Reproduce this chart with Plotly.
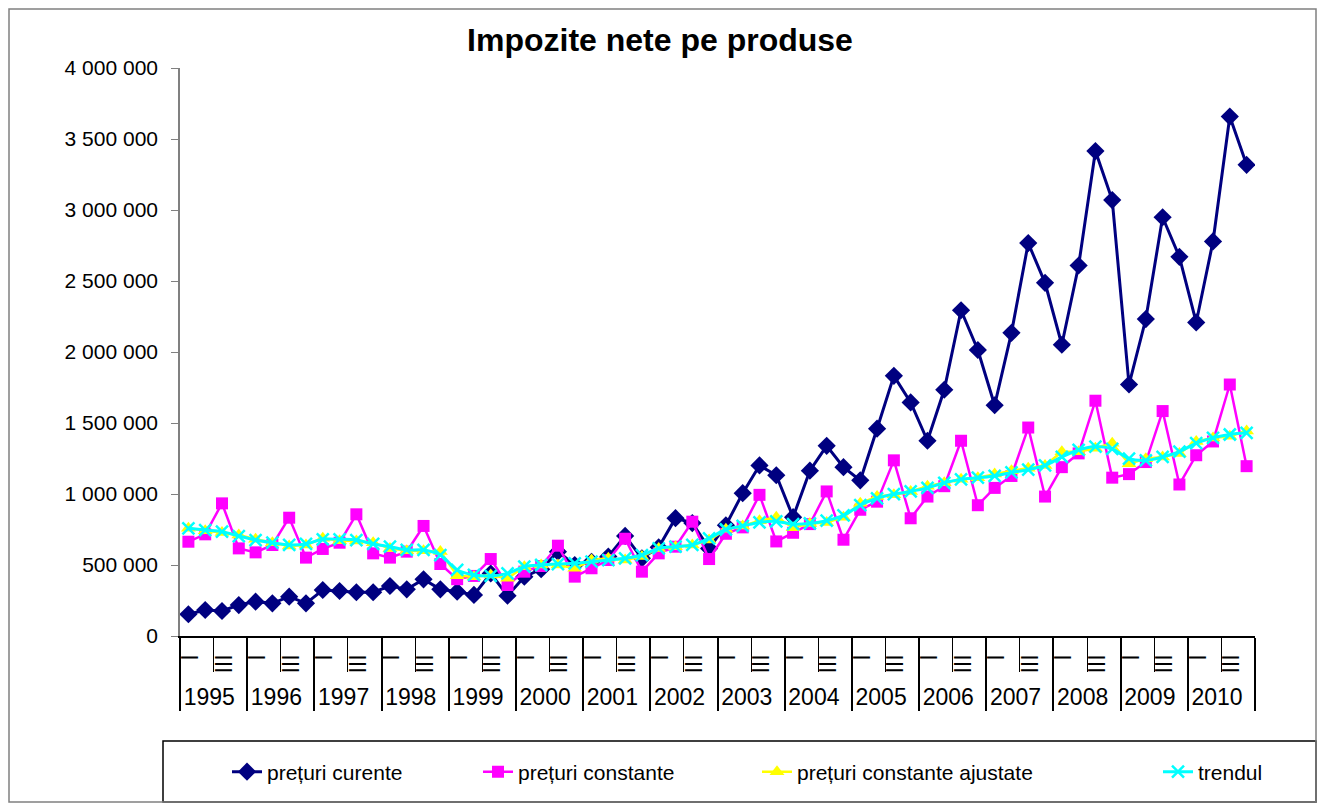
import plotly.graph_objects as go

years = [str(y) for y in range(1995, 2011)]
quarters = ["I", "II", "III", "IV"]

preturi_curente = [153, 183, 176, 218, 242, 230, 277, 230, 324, 317, 308, 308, 352, 329, 399, 329,
                   312, 289, 440, 284, 418, 470, 594, 500, 523, 560, 705, 547, 625, 830, 795, 617,
                   780, 1006, 1201, 1132, 837, 1164, 1339, 1189, 1096, 1460, 1832, 1645, 1375, 1734, 2294, 2014,
                   1625, 2135, 2767, 2487, 2051, 2609, 3415, 3070, 1771, 2232, 2949, 2670, 2208, 2779, 3658, 3318]
preturi_constante = [664, 716, 934, 617, 589, 641, 833, 552, 613, 657, 857, 582, 552, 594, 775, 507,
                     400, 423, 542, 359, 453, 493, 636, 418, 477, 535, 685, 453, 582, 629, 805, 542,
                     720, 765, 994, 666, 727, 788, 1018, 678, 889, 946, 1237, 829, 982, 1055, 1375, 921,
                     1043, 1127, 1468, 982, 1189, 1286, 1657, 1115, 1140, 1225, 1584, 1067, 1273, 1370, 1771, 1196]
preturi_ajustate = [758, 742, 728, 711, 681, 657, 634, 641, 688, 671, 669, 657, 617, 601, 600, 595,
                    425, 418, 430, 406, 488, 500, 500, 477, 535, 547, 535, 559, 617, 629, 641, 676,
                    751, 775, 812, 837, 763, 793, 800, 837, 934, 982, 994, 1018, 1055, 1079, 1103, 1115,
                    1140, 1164, 1181, 1201, 1298, 1298, 1322, 1358, 1213, 1249, 1261, 1286, 1370, 1395, 1407, 1444]
trendul = [758, 746, 735, 704, 676, 657, 641, 648, 681, 681, 676, 648, 629, 606, 606, 570,
           465, 430, 423, 441, 488, 500, 507, 512, 523, 535, 547, 570, 617, 629, 641, 688,
           750, 775, 800, 807, 788, 793, 812, 849, 921, 970, 999, 1018, 1043, 1079, 1103, 1115,
           1127, 1152, 1171, 1201, 1261, 1310, 1334, 1317, 1249, 1237, 1261, 1298, 1358, 1395, 1419, 1431]

x = [[y for y in years for q in quarters], [q for y in years for q in quarters]]
scale = 1000

FONT = "Arial, Liberation Sans, sans-serif"

# figure is placed at an 8px body offset in the page
W, H = 1309, 795
L, R, T, B = 172, 62, 60, 167
PW, PH = W - L - R, H - T - B

fig = go.Figure()
fig.add_trace(go.Scatter(x=x, y=[v * scale for v in preturi_curente], name="prețuri curente",
                         mode="lines+markers", line=dict(color="#000080", width=3),
                         marker=dict(symbol="diamond", size=14, color="#000080"), legendwidth=206))
fig.add_trace(go.Scatter(x=x, y=[v * scale for v in preturi_constante], name="prețuri constante",
                         mode="lines+markers", line=dict(color="#FF00FF", width=2.5),
                         marker=dict(symbol="square", size=12, color="#FF00FF"), legendwidth=234))
fig.add_trace(go.Scatter(x=x, y=[v * scale for v in preturi_ajustate], name="prețuri constante ajustate",
                         mode="lines+markers", line=dict(color="#FFFF00", width=2.5),
                         marker=dict(symbol="triangle-up", size=13, color="#FFFF00"), legendwidth=356))
fig.add_trace(go.Scatter(x=x, y=[v * scale for v in trendul], name="trendul",
                         mode="lines+markers", line=dict(color="#00FFFF", width=3, shape="spline"),
                         marker=dict(symbol="x-thin-open", size=12, line=dict(color="#00FFFF", width=2.5)),
                         legendwidth=62))

fig.update_layout(
    width=W, height=H,
    margin=dict(l=L, r=R, t=T, b=B, autoexpand=False),
    paper_bgcolor="white", plot_bgcolor="white",
    separators=", ",
    font=dict(family=FONT, size=21, color="black"),
    title=dict(text="<b>Impozite nete pe produse</b>", x=652 / W, xref="container", xanchor="center",
               y=1 - 32 / H, yref="container", yanchor="middle",
               font=dict(family=FONT, size=32, color="black")),
    legend=dict(orientation="h", xanchor="left", x=(219 - L) / PW, yanchor="middle",
                y=(T + PH - 764) / PH, borderwidth=0, bgcolor="rgba(0,0,0,0)",
                font=dict(family=FONT, size=21, color="black")),
    showlegend=True,
)
fig.update_yaxes(range=[0, 4000000], dtick=500000, tickformat=",d", showgrid=False,
                 showline=True, linecolor="#808080", linewidth=1.5, ticks="outside",
                 ticklen=7, tickcolor="#808080", zeroline=False, automargin=False,
                 ticklabelstandoff=9,
                 tickfont=dict(family=FONT, size=21, color="black"))
fig.update_xaxes(type="multicategory", range=[-0.5, 63.5], showgrid=False, showline=True,
                 linecolor="black", automargin=False,
                 linewidth=1.5, ticks="outside", ticklen=34, tickcolor="black", tickangle=90,
                 ticklabelstandoff=12,
                 showdividers=True, dividercolor="black", dividerwidth=1.5,
                 tickfont=dict(family=FONT, size=23, color="black"))

# legend frame
fig.add_shape(type="rect", xref="paper", yref="paper",
              x0=(155 - L) / PW, x1=(1308 - L) / PW,
              y0=(T + PH - 794) / PH, y1=(T + PH - 733) / PH,
              line=dict(color="black", width=1.5), layer="below")
# outer chart border
fig.add_shape(type="rect", xref="paper", yref="paper",
              x0=(1 - L) / PW, x1=(W - 1 - L) / PW,
              y0=(T + PH - (H - 1)) / PH, y1=(T + PH - 1) / PH,
              line=dict(color="#808080", width=1.5), layer="below")

fig.write_html("out.html")
